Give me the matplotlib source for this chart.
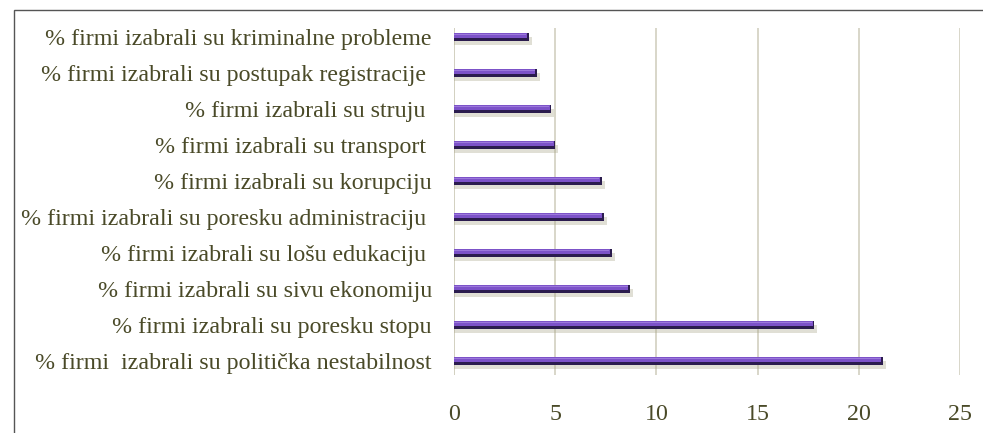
import matplotlib.pyplot as plt
from matplotlib.patches import Rectangle

# categories from bottom to top
labels = [
    "% firmi  izabrali su politička nestabilnost",
    "% firmi izabrali su poresku stopu",
    "% firmi izabrali su sivu ekonomiju",
    "% firmi izabrali su lošu edukaciju ",
    "% firmi izabrali su poresku administraciju ",
    "% firmi izabrali su korupciju",
    "% firmi izabrali su transport ",
    "% firmi izabrali su struju ",
    "% firmi izabrali su postupak registracije ",
    "% firmi izabrali su kriminalne probleme",
]
values = [21.2, 17.8, 8.7, 7.8, 7.4, 7.3, 5.0, 4.8, 4.1, 3.7]
xticks = [0, 5, 10, 15, 20, 25]

text_color = "#4a4a28"
grid_color = "#d2d0c0"

fig = plt.figure(figsize=(9.83, 4.33), dpi=100)
ax = fig.add_axes([454 / 983, 1 - 375 / 433, 506 / 983, 347 / 433])

pos = list(range(len(values)))

# soft shadow under each bar
ax.barh([p - 0.1 for p in pos], [v + 0.15 for v in values], height=0.22,
        color="#a8a488", alpha=0.35, zorder=2)
# dark lower part of the bar
ax.barh(pos, values, height=0.23, color="#2b1c4e", zorder=3)
# purple upper face
ax.barh([p + 0.035 for p in pos], [v - 0.08 for v in values], height=0.14,
        color="#7c52c8", zorder=4)
# highlight strip
ax.barh([p + 0.075 for p in pos], [v - 0.12 for v in values], height=0.04,
        color="#9c78dc", zorder=5)

ax.set_xlim(0, 25)
ax.set_ylim(-0.39, 9.25)
ax.set_xticks(xticks)
ax.set_yticks(pos)
ax.set_yticklabels(labels)

for s in ax.spines.values():
    s.set_visible(False)
ax.xaxis.grid(True, color=grid_color, linewidth=1.2)
ax.axvline(0, color=grid_color, linewidth=1.2, zorder=1)
ax.set_axisbelow(True)

ax.tick_params(axis="both", length=0, labelcolor=text_color, labelsize=17.3)
ax.tick_params(axis="y", pad=16)
ax.tick_params(axis="x", pad=21)
for t in ax.get_xticklabels() + ax.get_yticklabels():
    t.set_fontfamily("Liberation Serif")

# outer frame of the chart area
fig.patches.append(Rectangle((14 / 983, -0.1), 2, 1.1 - 10 / 433,
                             transform=fig.transFigure, fill=False,
                             edgecolor="#555555", linewidth=1))

fig.savefig("out.png", dpi=100)
